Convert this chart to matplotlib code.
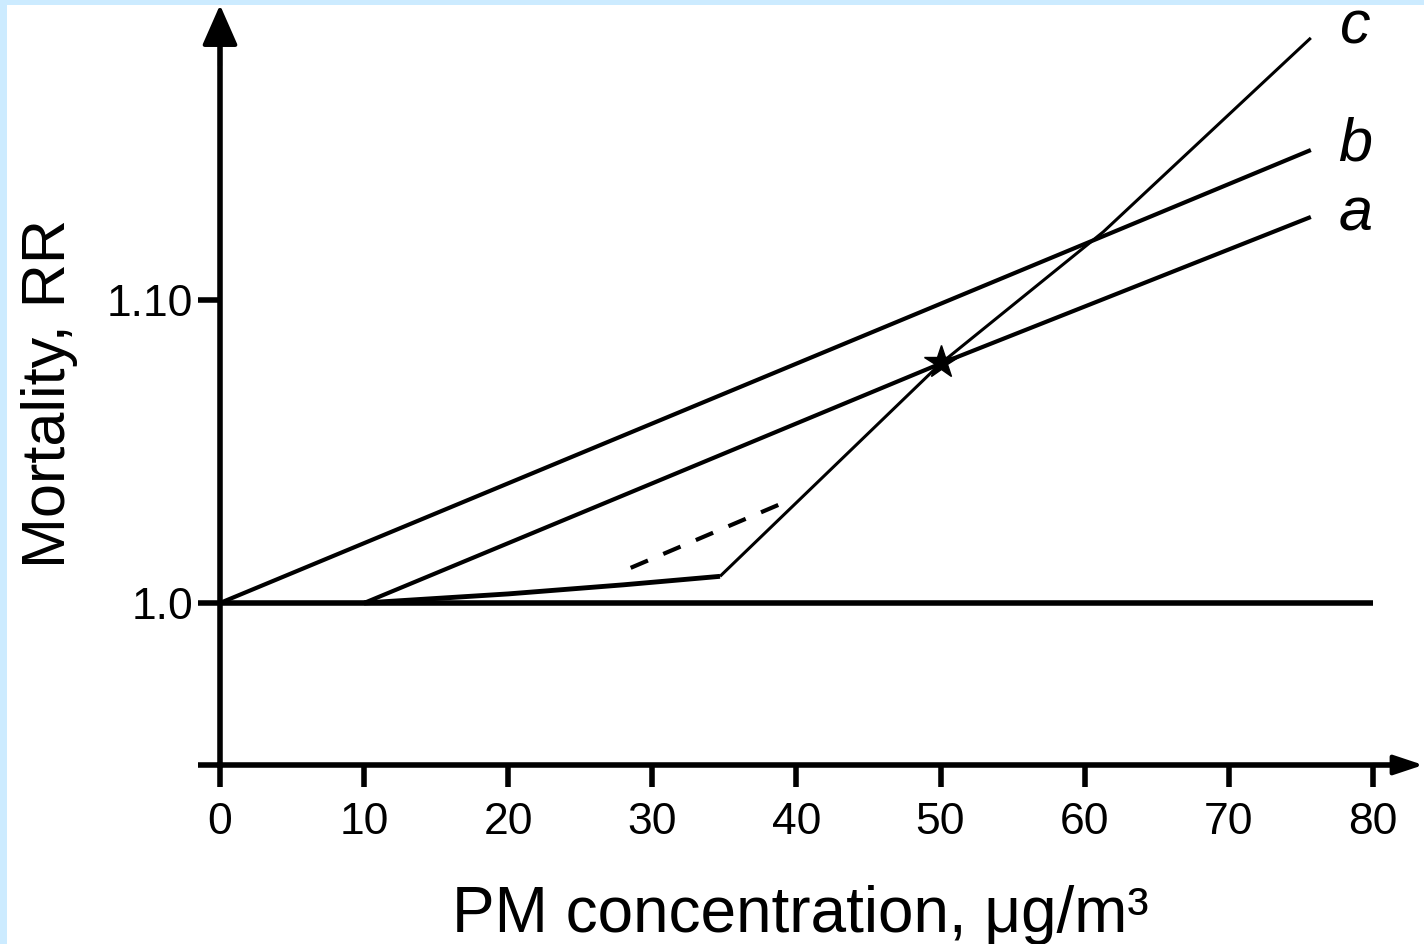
#!/usr/bin/env python3
# -*- coding: utf-8 -*-

"""
PM濃度と死亡率(RR)の関係図

3種類の濃度-反応曲線 (a, b, c) を基準線 RR=1.0 と一緒に描く。
"""

import matplotlib
matplotlib.use('Agg')
import matplotlib.pyplot as plt
import matplotlib.font_manager as fm

# ---- データ ----
x_ticks = [0, 10, 20, 30, 40, 50, 60, 70, 80]
y_ticks = [1.0, 1.10]
y_tick_labels = ['1.0', '1.10']

a_x = [10, 50, 75.7]
a_y = [1.0, 1.079, 1.1274]

b_x = [0, 75.7]
b_y = [1.0, 1.1495]

c_x = [10, 20, 28, 34.7, 50, 61.3, 75.7]
c_y = [1.0, 1.003, 1.006, 1.0088, 1.079, 1.1225, 1.1865]
c_knee = 3  # この点から傾きが急になる

dash_x = [28.5, 39.7]
dash_y = [1.0116, 1.0343]

star_x = [50]
star_y = [1.0795]

baseline_x = [0, 80]
baseline_y = [1.0, 1.0]

curve_names = ['a', 'b', 'c']
name_x = 78.8
name_y = [1.1231, 1.1462, 1.1848]

x_label = 'PM concentration, μg/m³'
y_label = 'Mortality, RR'

# ---- 画面配置（ピクセル -> データ座標） ----
W, H = 1424, 944
PX_X0, PX_PER_X = 220, 14.41     # x=0 の位置と 1 単位あたりのピクセル
PX_Y1, PX_PER_Y = 603, 3030      # RR=1.0 の位置と 1 単位あたりのピクセル
LEFT_PX, TOP_PX = 7, 5           # 水色の枠

xlim = ((LEFT_PX - PX_X0) / PX_PER_X, (W - PX_X0) / PX_PER_X)
ylim = (1 - (H - PX_Y1) / PX_PER_Y, 1 + (PX_Y1 - TOP_PX) / PX_PER_Y)
axis_y = 1 - (765 - PX_Y1) / PX_PER_Y   # x軸の高さ

installed = {f.name for f in fm.fontManager.ttflist}
if 'Liberation Sans Narrow' in installed:
    ylab_font, ylab_size = 'Liberation Sans Narrow', 50
else:
    ylab_font, ylab_size = 'Liberation Sans', 44

plt.rcParams['font.family'] = ['Liberation Sans', 'DejaVu Sans']

fig = plt.figure(figsize=(W / 100, H / 100), dpi=100, facecolor='#CCEBFF')
ax = fig.add_axes([LEFT_PX / W, 0, 1 - LEFT_PX / W, 1 - TOP_PX / H])
ax.set_facecolor('white')
ax.set_xlim(xlim)
ax.set_ylim(ylim)

# 軸線
for s in ['top', 'right']:
    ax.spines[s].set_visible(False)
ax.spines['left'].set_position(('data', 0))
ax.spines['bottom'].set_position(('data', axis_y))
ax.spines['left'].set_bounds(axis_y, ylim[1] - 0.012)
ax.spines['bottom'].set_bounds(0, 81.8)
for s in ['left', 'bottom']:
    ax.spines[s].set_linewidth(4)

ax.set_xticks(x_ticks, [str(t) for t in x_ticks])
ax.set_yticks([axis_y] + y_ticks, [''] + y_tick_labels)
ax.tick_params(axis='both', direction='out', width=4, length=16,
               labelsize=32, color='black')
ax.tick_params(axis='x', pad=11)
ax.tick_params(axis='y', pad=3.5)

# 矢印
ax.annotate('', xy=(0, ylim[1]), xytext=(0, ylim[1] - 0.02),
            arrowprops=dict(arrowstyle='-|>,head_length=2.5,head_width=1.1',
                            mutation_scale=10, color='black', lw=3,
                            shrinkA=0, shrinkB=0))
ax.annotate('', xy=(xlim[1] - 0.05, axis_y), xytext=(80, axis_y),
            arrowprops=dict(arrowstyle='-|>,head_length=1.8,head_width=0.6',
                            mutation_scale=10, color='black', lw=3,
                            shrinkA=0, shrinkB=0))

# 基準線と曲線
ax.plot(baseline_x, baseline_y, color='black', lw=4, solid_capstyle='butt')
ax.plot(b_x, b_y, color='black', lw=3, solid_capstyle='butt')
ax.plot(a_x, a_y, color='black', lw=3, solid_capstyle='butt')
ax.plot(c_x[:c_knee + 1], c_y[:c_knee + 1], color='black', lw=3.5,
        solid_capstyle='butt')
ax.plot(c_x[c_knee:], c_y[c_knee:], color='black', lw=2.2,
        solid_capstyle='butt')
ax.plot(dash_x, dash_y, color='black', lw=3, dashes=(4.5, 4))
ax.plot(star_x, star_y, marker='*', markersize=25, color='black',
        linestyle='none')

for name, ny in zip(curve_names, name_y):
    ax.text(name_x, ny, name, fontsize=44, style='italic',
            ha='center', va='baseline')

ax.set_xlabel(x_label, fontsize=46, va='baseline')
ax.xaxis.set_label_coords((800 - LEFT_PX) / (W - LEFT_PX), (H - 932) / (H - TOP_PX))
ax.set_ylabel(y_label, fontsize=ylab_size, family=[ylab_font, 'DejaVu Sans'],
              va='center')
ax.yaxis.set_label_coords((50 - LEFT_PX) / (W - LEFT_PX), (H - 393) / (H - TOP_PX))

fig.savefig('out.png', dpi=100, facecolor=fig.get_facecolor())
